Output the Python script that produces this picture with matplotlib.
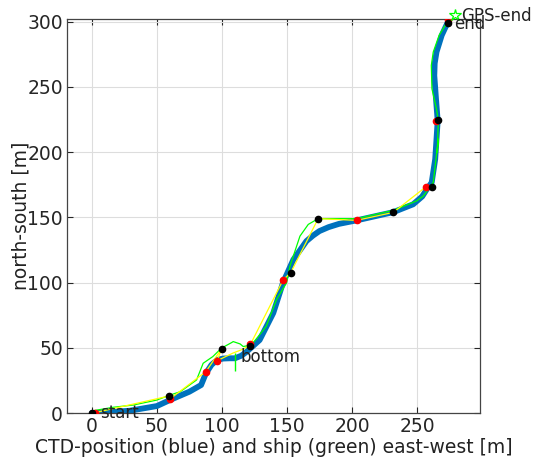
import numpy as np
import matplotlib
matplotlib.use('Agg')
import matplotlib.pyplot as plt

# CTD track (blue), east-west / north-south in m
ctd_x = [0, 1, 29, 50, 60, 75, 84, 87.7, 92, 96.4, 101, 106, 110, 115, 119, 129, 139.5, 147, 155,
         165, 170, 175, 182, 190, 203.6, 231.8, 247, 254, 257.5, 261.3, 264, 265, 265.9, 264.6,
         263.3, 263.6, 265, 269, 274]
ctd_y = [0, 0, 1.8, 5.4, 10, 16.4, 21.5, 30.5, 37, 40.8, 41.8, 42, 42, 44, 47, 56, 76.7, 100, 117.7,
         131.8, 136, 139.5, 142.5, 145, 147.7, 154, 160, 166, 171.5, 176.7, 194.6, 210, 224, 240.8,
         258.7, 268, 276.7, 289.5, 300.2]

# ship track (green)
ship_x = [0, 1, 16, 32, 50, 60, 68, 80.5, 85.6, 93, 99.7, 107.4, 108.7, 114, 116.4, 122.8, 134, 142,
          149.7, 152.3, 160, 166.4, 174, 203.6, 231.8, 249.7, 254.9, 262.5, 264.6, 266.4, 265.6, 266.4,
          265, 261.5, 261, 262.5, 267, 272.8, 279]
ship_y = [0, 1.8, 4.4, 6.2, 10, 13.8, 16.4, 25.4, 38.2, 43.3, 49.8, 54, 54.8, 53, 51, 52.3, 66.4, 87,
          99.7, 112.5, 135.6, 144.6, 149, 149, 155.4, 162.6, 166.4, 176.7, 194.6, 210, 200, 224,
          233, 248.5, 266.4, 276.7, 289.5, 299, 305.4]

# ship positions at sample times (black) and matching CTD positions (red)
ship_pts_x = [0, 59, 99.7, 121.5, 152.8, 174, 231.8, 261.3, 266.4, 273.6]
ship_pts_y = [0, 13, 49.2, 51.8, 107.4, 149, 153.8, 173.6, 224.8, 299]
ctd_pts_x = [2.3, 60, 87.7, 96.4, 121.5, 147.2, 203.6, 256.7, 264.6, 274]
ctd_pts_y = [0.3, 10.8, 31.8, 40.2, 53, 102.3, 147.7, 173.3, 224, 301]

# yellow connection segments
yel_x = [0, 2.3, 59, 60, 87.7, 99.7, 96.4, 108.5, 115, 121.5, 147.2, 152.8, 174, 203.6, 231.8,
         256.7, 261.3]
yel_y = [0, 0.3, 13, 10.8, 31.8, 49.2, 40.2, 46, 48.5, 51.8, 102.3, 107.4, 149, 147.7, 153.8,
         173.3, 173.6]

bottom_ship = (110, 39)
gps_end = (279, 305.4)

fig = plt.figure(figsize=(5.37, 4.59), dpi=100)
ax = fig.add_axes([0.125, 0.100, 0.769, 0.8586])

ax.plot(ctd_x, ctd_y, color='#0072BD', lw=4.2, solid_capstyle='round', solid_joinstyle='round',
        zorder=2)
ax.plot(ship_x, ship_y, color='#00FF00', lw=0.9, zorder=3)
ax.plot(yel_x, yel_y, color='#FFFF00', lw=0.9, zorder=4)
ax.plot(ctd_pts_x, ctd_pts_y, 'o', color='#FF0000', ms=4.5, zorder=5)
ax.plot(ship_pts_x, ship_pts_y, 'o', color='k', ms=4.5, zorder=6)
ax.plot(*bottom_ship, '|', color='#00FF00', ms=13, mew=1, zorder=3)
ax.plot(*gps_end, '*', color='#00FF00', mfc='none', ms=9, mew=0.9, zorder=7, clip_on=False)

fs = 13.5
tfs = 12
ax.text(6, 0, 'start', fontsize=tfs, va='center', ha='left', color='#222222', zorder=8)
ax.text(114, 43, 'bottom', fontsize=tfs, va='center', ha='left', color='#222222', zorder=8)
ax.text(278.5, 298.5, 'end', fontsize=tfs, va='center', ha='left', color='#222222', zorder=8,
        clip_on=False)
ax.text(284, 304, 'GPS-end', fontsize=tfs, va='center', ha='left', color='#222222', zorder=8,
        clip_on=False)

ax.set_xlim(-19, 298.5)
ax.set_ylim(0, 302)
ax.set_xticks(np.arange(0, 251, 50))
ax.set_yticks(np.arange(0, 301, 50))
ax.grid(True, color='#dddddd', lw=0.8)
ax.set_axisbelow(True)
ax.tick_params(direction='in', top=True, right=True, labelsize=fs, length=4, colors='#262626',
               pad=3)
for s in ax.spines.values():
    s.set_color('#444444')
    s.set_linewidth(0.9)

ax.set_xlabel('CTD-position (blue) and ship (green) east-west [m]', fontsize=fs, color='#222222',
              labelpad=1)
ax.set_ylabel('north-south [m]', fontsize=fs, color='#222222', labelpad=-2)

fig.savefig('out.png', dpi=100)
